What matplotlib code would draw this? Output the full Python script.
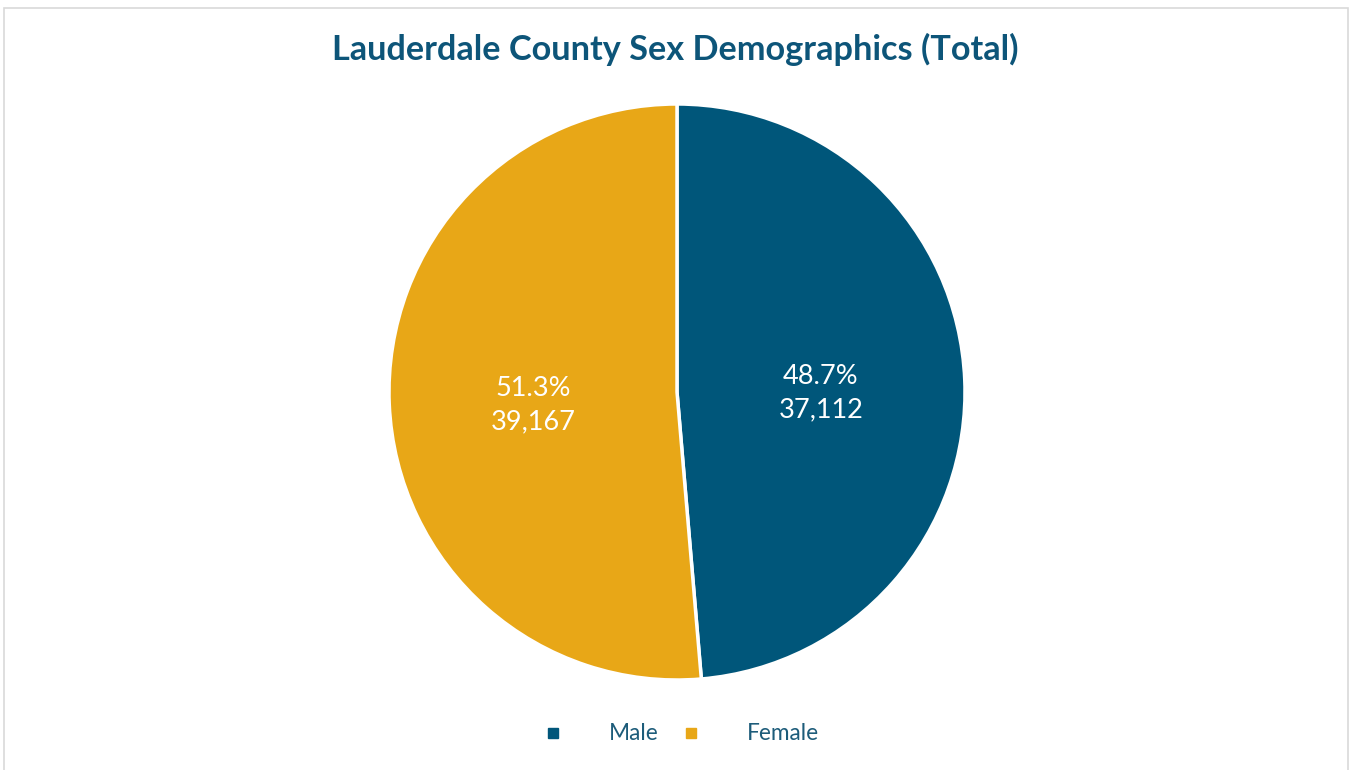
import matplotlib
matplotlib.use('Agg')
import matplotlib.pyplot as plt
from matplotlib.lines import Line2D
from matplotlib.patches import Rectangle

# sex breakdown, Lauderdale County totals
labels = ['Male', 'Female']
counts = [37112, 39167]
colors = ['#00567A', '#E8A717']
TITLE_C = '#0D5579'
TEXT_C = '#1D5C7A'

plt.rcParams['font.family'] = ['Lato', 'DejaVu Sans']

W, H = 1351, 770
fig = plt.figure(figsize=(W / 100, H / 100), dpi=100, facecolor='white')

# light frame around the chart area
fig.patches.append(Rectangle((4 / W, -0.01), (1348 - 4) / W, (766 - 4) / H + 0.01,
                             transform=fig.transFigure, fill=False,
                             edgecolor='#D9D9D9', linewidth=1.2))

cx, cy, r = 677, 392, 288
ax = fig.add_axes([(cx - r) / W, (H - cy - r) / H, 2 * r / W, 2 * r / H])
total = sum(counts)
pct = [c / total * 100 for c in counts]

wedges, texts = ax.pie(counts, colors=colors, startangle=90, counterclock=False,
                       radius=1, wedgeprops=dict(edgecolor='white', linewidth=2.5),
                       labels=[f'{p:.1f}%\n{c:,}' for p, c in zip(pct, counts)],
                       labeldistance=0.5)
for t in texts:
    t.set_color('white')
    t.set_fontsize(19.5)
    t.set_ha('center')
    t.set_va('center')
    t.set_linespacing(1.45)
    x, y = t.get_position()
    t.set_position((x, y - 0.025))
ax.set_xlim(-1, 1)
ax.set_ylim(-1, 1)
ax.set_aspect('equal')
ax.axis('off')

fig.text(0.5, (H - 49) / H, 'Lauderdale County Sex Demographics (Total)',
         ha='center', va='center', fontsize=24.7, fontweight='bold', color=TITLE_C)

handles = [Line2D([], [], marker='s', linestyle='none', markersize=7,
                  markerfacecolor=c, markeredgecolor=c) for c in colors]
leg = fig.legend(handles, labels, loc='center', bbox_to_anchor=(0.5035, (H - 734) / H),
                 ncol=2, frameon=False, fontsize=16.3, handletextpad=2.0,
                 columnspacing=0.9, handlelength=1)
for t in leg.get_texts():
    t.set_color(TEXT_C)

fig.savefig('out.png', dpi=100, facecolor='white')
